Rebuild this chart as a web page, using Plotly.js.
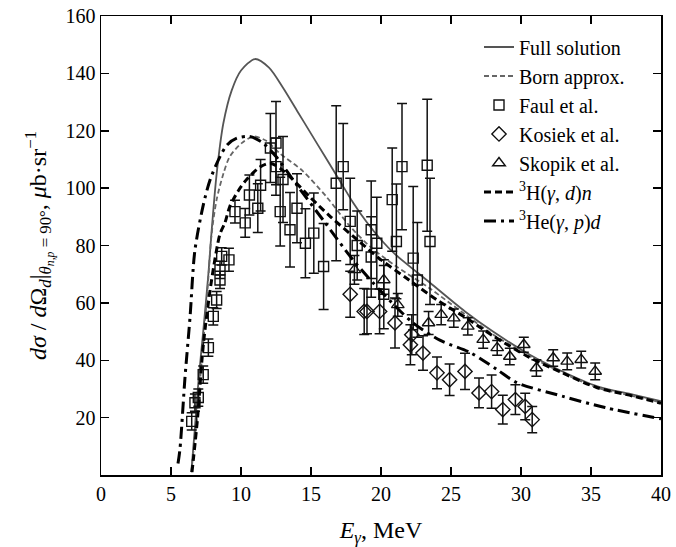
<!DOCTYPE html>
<html>
<head>
<meta charset="utf-8">
<script src="https://cdn.plot.ly/plotly-3.0.1.min.js"></script>
<style>
html,body{margin:0;padding:0;background:#fff;overflow:hidden;}
#chart{width:676px;height:547px;position:relative;z-index:1;}
#fontwarm{position:absolute;left:-3000px;top:10px;font-family:'Liberation Serif';font-size:20px;color:#fff;z-index:0;white-space:nowrap;}
</style>
</head>
<body>
<div id="fontwarm">0123456789 Full solution Born approx. MeV <i>γ dσ θ μ</i></div>
<div id="chart"></div>
<script>
// Theory curves
const fullX = [6.45,6.7,6.95,7.3,7.67,7.9,8.26,8.74,9.33,10.0,11.0,12.0,13.0,14.0,15.0,16.0,17.0,18.0,19.0,20.0,21.0,23.5,26.0,28.0,30.6,33.0,35.4,38.0,40.0];
const fullY = [1,16,32,50,70,85,105,122.6,134,141,145,142,135,127,119,111,103,95,88,82,77,67,57,50,42,36,31,28,25.7];

const bornX = [6.45,6.8,7.2,7.6,7.9,8.26,8.74,9.2,10.05,10.9,11.8,12.8,14.4,16.1,17.8,19.2,21,23.5,26,28,30.6,33,35.4,38,40];
const bornY = [1,18,40,64,84,96,105,111,115.7,118,116.5,112,106,97,86.6,79.7,73,65,56,49,41.5,35.5,30.5,27.5,25.3];

const h3X = [6.5,6.9,7.3,7.9,8.5,8.86,9.2,9.8,10.4,11.4,12.1,12.9,13.7,14.9,16.4,18.3,20,22,24,26,28,30.6,33,35.4,38,40];
const h3Y = [1,20,45,68,84,88,93.6,99,103,107.5,108.7,106.5,103,97,90,82,75,68,61,55,48.5,41,35.5,30.5,27.5,25];

const he3X = [5.5,5.64,6.0,6.36,6.7,7.3,7.8,8.5,9.0,9.7,10.6,11.5,12.5,14,16,18,20,22.3,24.2,26.4,28.3,29.7,33,36,40];
const he3Y = [4,9,34,55,78,94,103,111,115,117.4,118,116,111,101,88,75,64,53,47,42.6,36.7,32.2,27.4,23.5,19.6];

// Experimental data
const faulX = [6.48,6.71,6.95,7.3,7.67,8.02,8.26,8.5,8.5,8.62,9.14,9.57,10.3,10.6,11.2,11.4,12.1,12.5,12.5,12.8,13.0,13.5,14.0,14.6,15.2,15.9,16.8,17.3,17.8,18.3,19.3,19.3,19.7,20.2,20.8,21.1,21.5,22.3,22.6,23.3,23.5];
const faulY = [18.7,25.2,27,35,44.4,55.3,61,68,71.5,76.2,75,91.8,87.9,97.6,93,101,114,115.7,107.5,91.8,103,85.5,93,80.8,84.3,72.7,101.7,107.5,88.4,80,85.5,76,80.8,63,96,81.4,107.5,75.6,68,108,81.4];
const faulE = [3,3,3,3,3,3,3,3,3,3,4,4,5,7,8.5,9,12,14.5,10,12,15,13,12,12,14,15,27,15,15,12,17,14,16,12,18,20,22,25,20,23,22];

const kosX = [17.8,18.8,19.0,19.9,21.0,22.1,22.2,23.0,24.0,24.9,26.0,27.0,27.9,28.7,29.6,30.3,30.8];
const kosY = [63,57,57,57,53,45.4,48.9,42.5,35.6,33.2,36.1,28.6,29.1,22.8,26.3,23.9,19.3];
const kosE = [8,8,7.8,7.8,8.7,7,7,6,5.5,5.5,6.3,5.2,5.8,5,5.2,4.6,4.6];

const skoX = [18.1,20.2,21.2,23.4,24.3,25.2,26.2,27.3,28.3,29.2,30.2,31.1,32.3,33.3,34.3,35.3];
const skoY = [71.5,68,59.3,53,55.9,54.7,51.8,47.2,44.3,41.3,45.4,37.3,40.8,39.6,40.2,36.1];
const skoE = [5,5,4,4,3.5,3.2,3,3,2.6,2.9,2.6,2.9,2.9,2.9,2.9,2.9];

const xTicks = [0,5,10,15,20,25,30,35,40];
const yTicks = [20,40,60,80,100,120,140,160];

const FONT = "Liberation Serif";

function errTrace(name, x, y, e, symbol, size) {
  return {
    type: 'scatter', mode: 'markers', name: name, x: x, y: y,
    marker: {symbol: symbol, size: size, color: '#111', line: {color: '#111', width: 1.4}},
    error_y: {type: 'data', array: e, visible: true, color: '#111', thickness: 1.5, width: 5}
  };
}

const traces = [
  {type: 'scatter', mode: 'lines', name: 'Full solution', x: fullX, y: fullY,
   line: {color: '#555', width: 1.8, shape: 'spline', smoothing: 0.8}},
  {type: 'scatter', mode: 'lines', name: 'Born approx.', x: bornX, y: bornY,
   line: {color: '#666', width: 1.8, dash: '5px,3px', shape: 'spline', smoothing: 0.8}},
  errTrace('Faul et al.', faulX, faulY, faulE, 'square-open', 10),
  errTrace('Kosiek et al.', kosX, kosY, kosE, 'diamond-open', 11),
  errTrace('Skopik et al.', skoX, skoY, skoE, 'triangle-up-open', 11),
  {type: 'scatter', mode: 'lines', name: '<sup>3</sup>H(<i>γ</i>, <i>d</i>)<i>n</i>', x: h3X, y: h3Y,
   line: {color: '#000', width: 3, dash: '7px,4px', shape: 'spline', smoothing: 0.8}},
  {type: 'scatter', mode: 'lines', name: '<sup>3</sup>He(<i>γ</i>, <i>p</i>)<i>d</i>', x: he3X, y: he3Y,
   line: {color: '#000', width: 3, dash: '12px,5px,3px,5px', shape: 'spline', smoothing: 0.8}}
];

const axisCommon = {
  showline: true, linecolor: '#000', linewidth: 1.5, mirror: 'ticks',
  ticks: 'inside', ticklen: 8, tickwidth: 1.5, tickcolor: '#000',
  showgrid: false, zeroline: false
};

const layout = {
  width: 676, height: 547,
  margin: {l: 101, r: 15, t: 16, b: 72},
  paper_bgcolor: '#fff', plot_bgcolor: '#fff',
  font: {family: FONT, size: 20, color: '#000'},
  showlegend: true,
  legend: {x: 0.675, xanchor: 'left', y: 0.975, yanchor: 'top', bgcolor: 'rgba(0,0,0,0)',
           itemwidth: 30, tracegroupgap: 0},
  xaxis: Object.assign({}, axisCommon, {
    range: [0, 40], tickvals: xTicks, ticktext: xTicks.map(String),
    title: {text: '<i>E</i><sub><i>γ</i></sub>, MeV', standoff: 22}
  }),
  yaxis: Object.assign({}, axisCommon, {
    range: [0, 160], tickvals: yTicks, ticktext: yTicks.map(String),
    title: {text: '<i>dσ</i> / <i>d</i>Ω<sub><i>d</i></sub>|<sub><i>θ</i><sub><i>n,p</i></sub> = 90°</sub>, <i>μ</i>b·sr<sup>−1</sup>',
            standoff: 12}
  })
};

Plotly.newPlot('chart', traces, layout, {displayModeBar: false, staticPlot: true});
</script>
</body>
</html>
